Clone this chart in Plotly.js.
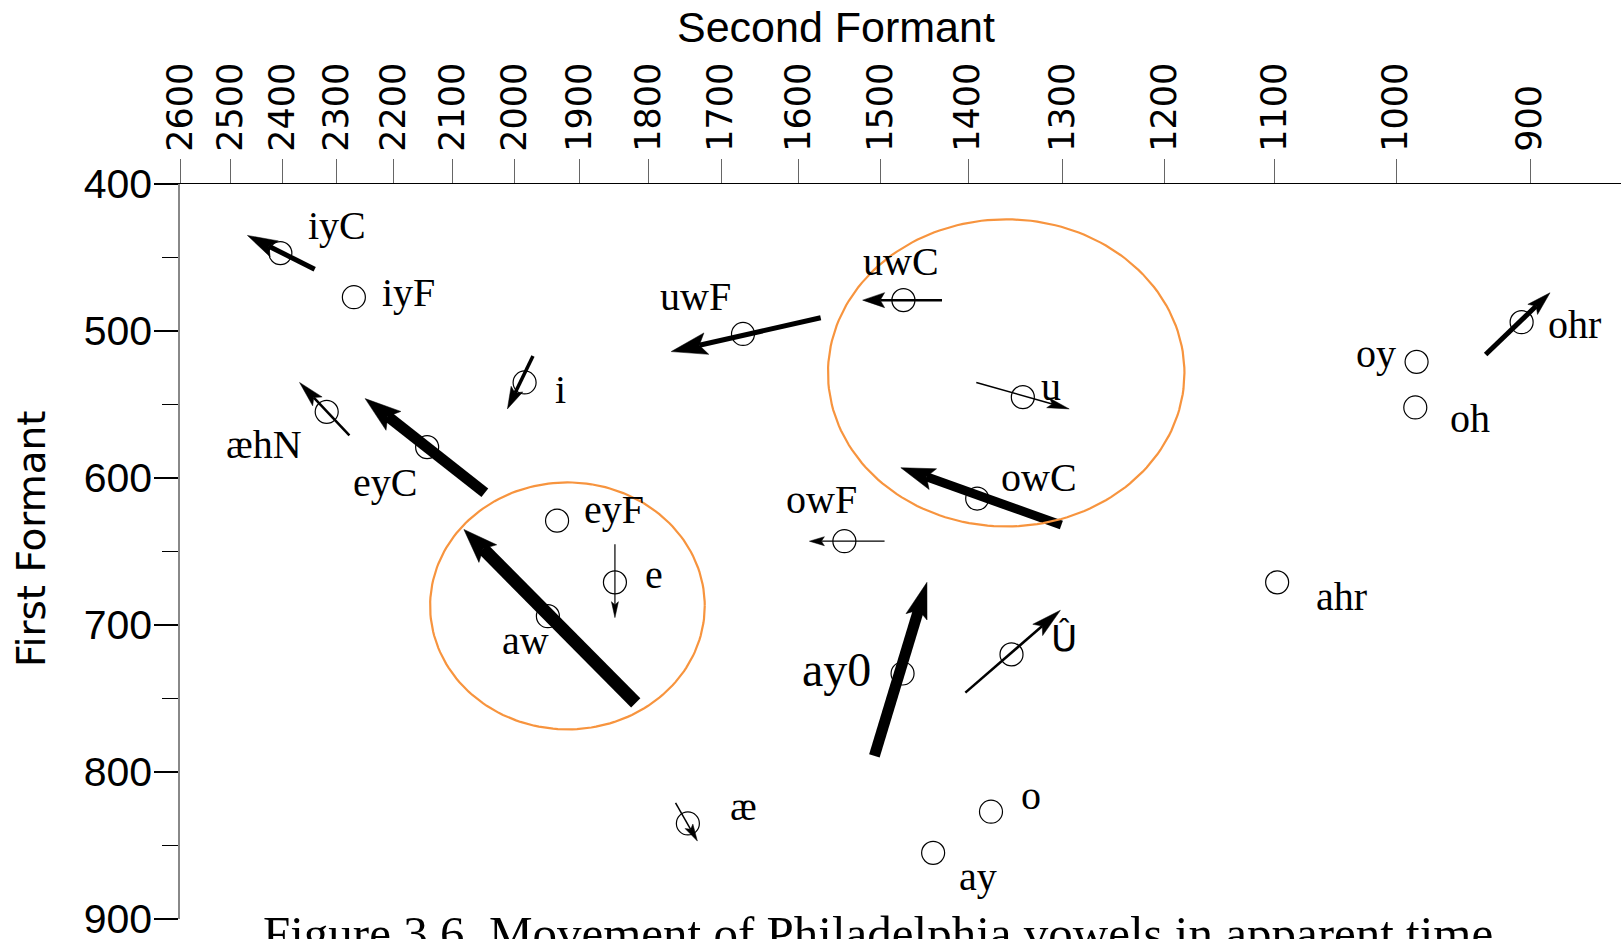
<!DOCTYPE html>
<html>
<head>
<meta charset="utf-8">
<script src="https://cdn.plot.ly/plotly-3.0.1.min.js"></script>
<style>
  html, body { margin: 0; padding: 0; background: #ffffff; }
  #chart { width: 1621px; height: 939px; }
</style>
</head>
<body>
<div id="chart"></div>
<script>
// Mean vowel positions: second formant (Hz) and first formant (Hz)
const vowels = ['iyC', 'iyF', 'æhN', 'eyC', 'i', 'aw', 'eyF', 'e', 'uwF', 'uwC', 'u',
                'owC', 'owF', 'ay0', 'Û', 'æ', 'o', 'ay', 'ahr', 'oy', 'oh', 'ohr'];
const f2 = [2404, 2269, 2318, 2142, 1984, 1948, 1934, 1848, 1671, 1473, 1341,
            1390, 1543, 1474, 1353, 1745, 1375, 1439, 1098, 984, 985, 906];
const f1 = [447, 477, 555, 579, 535, 694, 629, 671, 502, 479, 545,
            614, 643, 733, 720, 835, 827, 855, 671, 521, 552, 494];

// Movement in apparent time: older speakers (from) to younger speakers (to)
const moveVowel = ['iyC', 'æhN', 'eyC', 'i', 'aw', 'e', 'uwF', 'uwC', 'u', 'owC', 'owF', 'ay0', 'Û', 'æ', 'ohr'];
const fromF2 = [2340, 2277, 2047, 1971, 1818, 1848, 1572, 1429, 1391, 1301, 1495, 1507, 1403, 1762, 932];
const fromF1 = [458, 571, 610, 517, 753, 645, 491, 479, 535, 632, 643, 789, 746, 821, 516];
const toF2 = [2467, 2368, 2249, 2011, 2081, 1848, 1768, 1521, 1293, 1476, 1586, 1446, 1302, 1732, 886];
const toF1 = [435, 535, 546, 553, 635, 695, 514, 479, 553, 593, 643, 671, 690, 847, 474];

// Highlighted regions (F2 span and F1 span of each ellipse)
const regionF2High = [2137, 1563];
const regionF2Low = [1722, 1181];
const regionF1Top = [603, 424];
const regionF1Bottom = [771, 633];

// Axis ticks
const f2Ticks = [2600, 2500, 2400, 2300, 2200, 2100, 2000, 1900, 1800, 1700, 1600, 1500, 1400, 1300, 1200, 1100, 1000, 900];
const f2TickText = f2Ticks.map(String);
const f1Ticks = [400, 500, 600, 700, 800, 900];

// Arrow styling: shaft width, head length, head width (px)
const arrowStyle = {
  'iyC': [5, 30, 18], 'æhN': [2.5, 26, 13], 'eyC': [11, 36, 24], 'i': [3.5, 22, 13],
  'aw': [13, 34, 25], 'e': [1.2, 16, 7], 'uwF': [5, 36, 22], 'uwC': [2.5, 22, 15],
  'u': [1.5, 22, 10], 'owC': [9, 34, 22], 'owF': [1.2, 15, 9], 'ay0': [11, 36, 22],
  'Û': [2.5, 30, 15], 'æ': [1.5, 17, 9], 'ohr': [5, 24, 14]
};

// Label placement relative to each vowel mark: [px right, px up]
const labelOffset = {
  'iyC': [57, 28], 'iyF': [55, 5], 'æhN': [-63, -33], 'eyC': [-42, -35], 'i': [36, -7],
  'aw': [-22, -24], 'eyF': [57, 11], 'e': [39, 8], 'uwF': [-48, 37], 'uwC': [-2, 39],
  'u': [28, 11], 'owC': [62, 21], 'owF': [-23, 42], 'ay0': [-66, 4], 'Û': [52, 16],
  'æ': [56, 17], 'o': [40, 16], 'ay': [45, -24], 'ahr': [64, -14], 'oy': [-41, 8],
  'oh': [55, -11], 'ohr': [53, -2]
};
const serif = 'Liberation Serif, Times New Roman, serif';
const labelFont = v => {
  if (v === 'ay0') return { family: serif, size: 48, color: '#000' };
  if (v === 'Û') return { family: 'DejaVu Sans, sans-serif', size: 36, color: '#000' };
  return { family: serif, size: 40, color: '#000' };
};

const ORANGE = '#F7943E';

const vowelMarks = {
  type: 'scatter', mode: 'markers', x: f2, y: f1, text: vowels,
  marker: { symbol: 'circle-open', size: 23, color: '#000', line: { width: 1.2, color: '#000' } },
  hoverinfo: 'text', showlegend: false
};

const labelNotes = vowels.map((v, i) => ({
  xref: 'x', yref: 'y', x: Math.log10(f2[i]), y: f1[i],
  xshift: labelOffset[v][0], yshift: labelOffset[v][1],
  text: v, showarrow: false, font: labelFont(v)
}));

const layout = {
  width: 1621, height: 939,
  margin: { l: 180, r: 0, t: 184, b: 20, pad: 0 },
  paper_bgcolor: '#ffffff', plot_bgcolor: '#ffffff',
  showlegend: false,
  title: {
    text: 'Second Formant', xref: 'container', yref: 'container',
    x: 0.5157, xanchor: 'center', y: 0.9712, yanchor: 'middle',
    font: { family: 'Liberation Sans, Arial, sans-serif', size: 43, color: '#000' }
  },
  xaxis: {
    type: 'log', side: 'top', range: [3.4152, 2.9232],
    tickmode: 'array', tickvals: f2Ticks, ticktext: f2TickText, tickangle: -90,
    ticks: 'outside', ticklen: 24, tickwidth: 1, tickcolor: '#666',
    ticklabelstandoff: 0,
    tickfont: { family: 'DejaVu Sans, Verdana, sans-serif', size: 35, color: '#000' },
    showline: true, linecolor: '#000', linewidth: 1.3,
    showgrid: false, zeroline: false, fixedrange: true
  },
  yaxis: {
    range: [900, 400],
    tickmode: 'array', tickvals: f1Ticks,
    ticks: 'outside', ticklen: 24, tickwidth: 1.2, tickcolor: '#000',
    ticklabelstandoff: -6, ticklabeloverflow: 'allow',
    minor: { dtick: 50, tick0: 450, ticks: 'outside', ticklen: 16, tickwidth: 1.2, tickcolor: '#000', showgrid: false },
    tickfont: { family: 'Liberation Sans, Arial, sans-serif', size: 41, color: '#000' },
    showline: true, linecolor: '#888', linewidth: 1.6,
    showgrid: false, zeroline: false, fixedrange: true
  },
  annotations: labelNotes.concat([
    {
      xref: 'paper', yref: 'paper', x: -0.1034, y: 0.517, xanchor: 'center', yanchor: 'middle',
      text: 'First Formant', textangle: -90, showarrow: false,
      font: { family: 'DejaVu Sans, Verdana, sans-serif', size: 39, color: '#000' }
    },
    {
      xref: 'paper', yref: 'paper', x: 0.4844, y: 0.0204, xanchor: 'center', yanchor: 'top',
      text: 'Figure 3.6. Movement of Philadelphia vowels in apparent time', showarrow: false,
      font: { family: serif, size: 49, color: '#000' }
    }
  ])
};

// Shafts and arrowheads are laid out in screen space via the axis scales,
// then handed back to Plotly as data-space traces.
function movementTraces(gd) {
  const xa = gd._fullLayout.xaxis, ya = gd._fullLayout.yaxis;
  const traces = [];
  const headX = [], headY = [];
  moveVowel.forEach((v, i) => {
    const [w, len, wid] = arrowStyle[v];
    const x0 = xa.c2p(fromF2[i]), y0 = ya.c2p(fromF1[i]);
    const x1 = xa.c2p(toF2[i]), y1 = ya.c2p(toF1[i]);
    const d = Math.hypot(x1 - x0, y1 - y0);
    const ux = (x1 - x0) / d, uy = (y1 - y0) / d;
    const nx = -uy, ny = ux;
    const bx = x1 - ux * len, by = y1 - uy * len;
    const kx = x1 - ux * len * 0.8, ky = y1 - uy * len * 0.8;
    traces.push({
      type: 'scatter', mode: 'lines',
      x: [fromF2[i], xa.p2c(kx)], y: [fromF1[i], ya.p2c(ky)],
      line: { color: '#000', width: w }, hoverinfo: 'skip', showlegend: false
    });
    const poly = [[x1, y1], [bx + nx * wid / 2, by + ny * wid / 2], [kx, ky],
                  [bx - nx * wid / 2, by - ny * wid / 2], [x1, y1]];
    poly.forEach(p => { headX.push(xa.p2c(p[0])); headY.push(ya.p2c(p[1])); });
    headX.push(null); headY.push(null);
  });
  traces.push({
    type: 'scatter', mode: 'lines', x: headX, y: headY, fill: 'toself',
    fillcolor: '#000', line: { color: '#000', width: 0.5 },
    hoverinfo: 'skip', showlegend: false
  });
  return traces;
}

// Orange outlines around the highlighted regions, traced as ellipses in screen space
function regionTraces(gd) {
  const xa = gd._fullLayout.xaxis, ya = gd._fullLayout.yaxis;
  return regionF2High.map((_, k) => {
    const xl = xa.c2p(regionF2High[k]), xr = xa.c2p(regionF2Low[k]);
    const yt = ya.c2p(regionF1Top[k]), yb = ya.c2p(regionF1Bottom[k]);
    const cx = (xl + xr) / 2, cy = (yt + yb) / 2;
    const rx = Math.abs(xr - xl) / 2, ry = Math.abs(yb - yt) / 2;
    const xs = [], ys = [];
    for (let j = 0; j <= 180; j++) {
      const t = (j / 180) * 2 * Math.PI;
      xs.push(xa.p2c(cx + rx * Math.cos(t)));
      ys.push(ya.p2c(cy + ry * Math.sin(t)));
    }
    return {
      type: 'scatter', mode: 'lines', x: xs, y: ys,
      line: { color: ORANGE, width: 2.2 }, hoverinfo: 'skip', showlegend: false
    };
  });
}

const gd = document.getElementById('chart');
Plotly.newPlot(gd, [vowelMarks], layout, { displayModeBar: false, staticPlot: true })
  .then(() => Plotly.addTraces(gd, movementTraces(gd).concat(regionTraces(gd))));
</script>
</body>
</html>
